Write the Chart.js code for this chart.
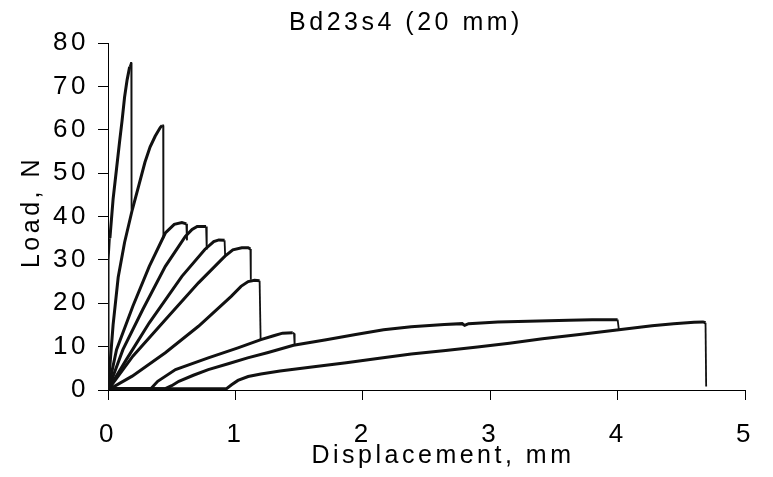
<!DOCTYPE html>
<html lang="en">
<head>
    <meta charset="UTF-8">
    <title>Bd23s4 (20 mm)</title>
    <style>
        html, body {
            margin: 0;
            padding: 0;
            background: #ffffff;
        }

        #chartBox {
            width: 773px;
            height: 477px;
        }
    </style>
</head>
<body>
    <div id="chartBox">
        <canvas id="loadChart" width="773" height="477"></canvas>
    </div>

    <script src="https://cdn.jsdelivr.net/npm/chart.js"></script>
    <script>
        // Text
        const chartTitle = "Bd23s4 (20 mm)";
        const xTitle = "Displacement, mm";
        const yTitle = "Load, N";

        // Tick labels
        const xTicks = [0, 1, 2, 3, 4, 5];
        const yTicks = [0, 10, 20, 30, 40, 50, 60, 70, 80];

        // Load cycles, [displacement mm, load N]
        const cycle1 = [[0, 0], [0.003, 10], [0.007, 30], [0.015, 35], [0.04, 44], [0.067, 51], [0.09, 57],
            [0.11, 62], [0.13, 67.5], [0.15, 71.5], [0.17, 74.5], [0.18, 75.4], [0.183, 75.4], [0.185, 41.6]];
        const cycle2 = [[0, 0], [0.04, 15], [0.08, 26], [0.13, 34], [0.19, 41.5], [0.245, 47.5], [0.29, 52.5],
            [0.33, 56], [0.37, 58.5], [0.41, 60.5], [0.425, 61], [0.433, 61], [0.435, 35]];
        const cycle3 = [[0, 0], [0.067, 9.3], [0.195, 19.3], [0.324, 28.5], [0.45, 36.2], [0.52, 38.2],
            [0.58, 38.6], [0.615, 38.3], [0.62, 34.5]];
        const cycle4 = [[0, 0], [0.117, 9.3], [0.272, 18.5], [0.45, 28.5], [0.607, 35.4], [0.66, 37],
            [0.7, 37.7], [0.77, 37.7], [0.775, 32.4]];
        const cycle5 = [[0, 0], [0.144, 7], [0.324, 15.5], [0.58, 26.2], [0.76, 32.4], [0.83, 34.2],
            [0.87, 34.6], [0.915, 34.5], [0.92, 30.6]];
        const cycle6 = [[0, 0], [0.195, 7.8], [0.45, 16.2], [0.71, 24.7], [0.916, 30.8], [0.98, 32.3],
            [1.05, 32.8], [1.1, 32.8], [1.118, 32.5], [1.121, 25.4]];
        const cycle7 = [[0, 0], [0.19, 3.2], [0.45, 8.6], [0.71, 14.7], [0.967, 21.6], [1.044, 23.9],
            [1.1, 25], [1.15, 25.3], [1.19, 25.2], [1.198, 11.6]];
        const cycle8 = [[0, 0.3], [0.336, 0.3], [0.39, 2], [0.53, 4.7], [0.787, 7.4], [1.02, 9.7], [1.2, 11.6],
            [1.3, 12.5], [1.37, 13.1], [1.45, 13.2], [1.46, 13], [1.465, 10.3]];
        const cycle9 = [[0, 0.3], [0.45, 0.3], [0.5, 1], [0.556, 2], [0.67, 3.4], [0.787, 4.7], [0.95, 6.1],
            [1.096, 7.4], [1.25, 8.6], [1.456, 10.3], [1.713, 11.6], [1.944, 12.8], [2.163, 13.9], [2.38, 14.6],
            [2.64, 15.1], [2.78, 15.3], [2.8, 14.9], [2.83, 15.3], [3.06, 15.7], [3.616, 16.1], [3.8, 16.2],
            [4.0, 16.2], [4.01, 13.9]];
        const cycle10 = [[0, 0.3], [0.93, 0.3], [0.97, 1.2], [1.02, 2.2], [1.1, 3.1], [1.2, 3.7], [1.35, 4.4],
            [1.6, 5.3], [1.87, 6.3], [2.13, 7.3], [2.38, 8.3], [2.65, 9.1], [2.9, 9.9], [3.15, 10.8], [3.41, 11.8],
            [3.7, 12.8], [4.01, 13.9], [4.27, 14.8], [4.44, 15.3], [4.6, 15.6], [4.67, 15.7], [4.69, 15.5],
            [4.695, 0.8]];

        const cycles = [cycle1, cycle2, cycle3, cycle4, cycle5, cycle6, cycle7, cycle8, cycle9, cycle10];

        const fontFamily = '"Liberation Sans", Arial, sans-serif';
        const spacing = "3.5px";
        Chart.defaults.font.family = fontFamily;
        Chart.defaults.color = "#000000";

        // letter spacing for all canvas text, plus the three titles
        const textPlugin = {
            id: "textPlugin",
            beforeLayout(chart) {
                chart.ctx.letterSpacing = spacing;
            },
            beforeDraw(chart) {
                chart.ctx.letterSpacing = spacing;
            },
            afterDraw(chart) {
                const ctx = chart.ctx;
                ctx.save();
                ctx.letterSpacing = spacing;
                ctx.font = "25px " + fontFamily;
                ctx.fillStyle = "#000000";
                ctx.textAlign = "center";
                ctx.textBaseline = "middle";
                ctx.fillText(chartTitle, 406, 23);
                ctx.fillText(xTitle, 443, 456);
                ctx.translate(32, 212);
                ctx.rotate(-Math.PI / 2);
                ctx.fillText(yTitle, 0, 0);
                ctx.restore();
            }
        };

        const datasets = cycles.map((c, i) => ({
            label: "Cycle " + (i + 1),
            data: c.map(p => ({ x: p[0], y: p[1] })),
            borderColor: "#111111",
            borderWidth: 3,
            pointRadius: 0,
            tension: 0,
            fill: false,
            segment: {
                // the sudden load drops are thin vertical lines
                borderWidth: ctx => Math.abs(ctx.p1.parsed.x - ctx.p0.parsed.x) < 0.012 ? 1.8 : undefined
            }
        }));

        const ctx = document.getElementById("loadChart").getContext("2d");
        new Chart(ctx, {
            type: "line",
            data: { datasets: datasets },
            options: {
                responsive: false,
                animation: false,
                layout: {
                    padding: { top: 43, right: 17, bottom: 0, left: 0 }
                },
                plugins: {
                    legend: { display: false },
                    tooltip: { enabled: false },
                    title: { display: false }
                },
                scales: {
                    x: {
                        type: "linear",
                        min: 0,
                        max: 5,
                        afterBuildTicks: s => { s.ticks = xTicks.map(v => ({ value: v })); },
                        afterFit: s => { s.height = 87; },
                        grid: {
                            drawOnChartArea: false,
                            drawTicks: true,
                            tickLength: 10,
                            color: "#000000"
                        },
                        border: { display: true, color: "#000000", width: 1 },
                        ticks: {
                            font: { size: 26 },
                            padding: 19,
                            maxRotation: 0,
                            color: "#000000"
                        }
                    },
                    y: {
                        type: "linear",
                        min: 0,
                        max: 80,
                        afterBuildTicks: s => { s.ticks = yTicks.map(v => ({ value: v })); },
                        afterFit: s => { s.width = 108; },
                        grid: {
                            drawOnChartArea: false,
                            drawTicks: true,
                            tickLength: 10,
                            color: "#000000"
                        },
                        border: { display: true, color: "#000000", width: 1 },
                        ticks: {
                            font: { size: 26 },
                            padding: 9,
                            color: "#000000"
                        }
                    }
                }
            },
            plugins: [textPlugin]
        });
    </script>
</body>
</html>
